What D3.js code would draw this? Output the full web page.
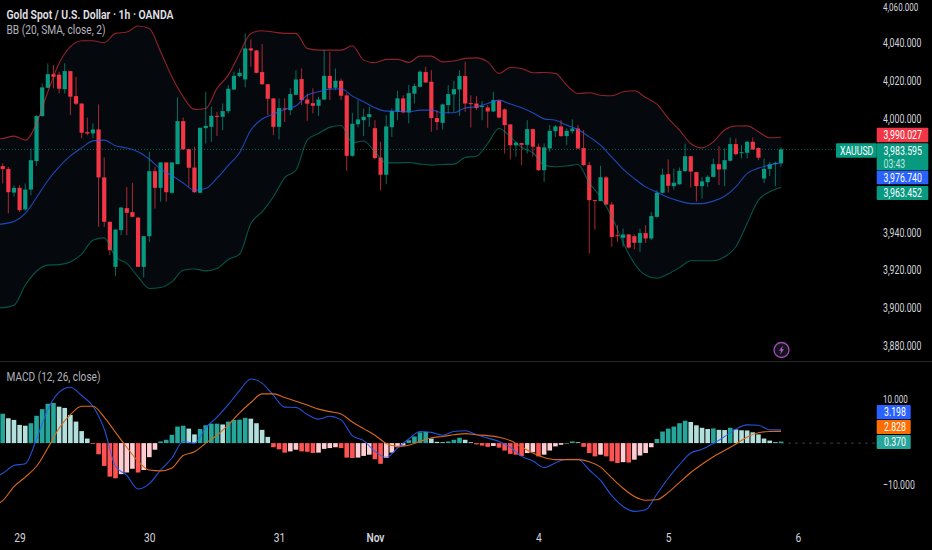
<!DOCTYPE html>
<html lang="en">
    <head>
        <meta charset="UTF-8">
        <title>Gold Spot / U.S. Dollar 1h</title>
        <style>
            body { margin: 0; background: #000; }
            svg { display: block; }
            text { font-family: Roboto, "Noto Sans", sans-serif; }
            .axis text { fill: #d1d4dc; font-size: 12.5px; }
            .axis .domain { display: none; }
            .tag { fill: #fff; font-size: 12.5px; }
        </style>
    </head>
    <body>

        <script src="https://d3js.org/d3.v7.min.js"></script>
        <script>

            const opens = [
                3974.8,3973.3,3960.8,3963.3,3951.9,3962.4,3977.4,4001.2,4016.1,4023.3,
                4023.0,4015.4,4024.9,4011.7,4007.8,3992.7,3992.0,3994.1,3968.8,3945.4,
                3921.6,3941.0,3952.6,3950.5,3947.6,3921.6,3937.8,3972.1,3963.3,3976.7,
                3960.7,3975.8,3998.5,3983.7,3974.0,3960.7,3994.8,3995.5,4001.3,4000.8,
                4003.8,4015.2,4022.3,4020.5,4036.9,4035.8,4024.4,4018.0,4010.5,3995.5,
                4005.2,4004.3,4012.4,4020.7,4009.9,4008.0,4006.6,4009.9,4022.4,4016.1,
                4019.8,4012.1,3980.2,3996.9,3999.0,4000.6,3994.8,3979.3,3970.2,3995.3,
                4003.4,4010.5,4003.1,4013.0,4016.6,4024.4,4019.3,4000.1,3997.6,4007.0,
                4012.6,4015.2,4022.3,4008.0,4007.8,4006.1,4005.7,4003.6,4009.4,4004.7,
                3996.8,3985.7,3986.9,3986.0,3994.3,3985.0,3972.6,3984.1,3993.2,3995.7,
                3990.6,3993.2,3994.6,3984.3,3975.3,3956.8,3956.3,3968.8,3954.5,3938.3,
                3936.9,3938.7,3937.8,3934.3,3939.4,3936.6,3948.0,3960.7,3970.5,3964.2,
                3965.2,3972.1,3980.0,3971.6,3964.2,3966.3,3969.1,3975.8,3973.0,3977.6,
                3986.4,3981.8,3981.8,3987.6,3984.3,3968.2,3973.3,3975.8,3976.2
            ];
            const highs = [
                3976.2,3974.4,3964.7,3964.7,3965.6,3984.1,4001.7,4018.4,4029.0,4028.1,
                4024.6,4029.0,4024.9,4021.9,4007.8,4000.4,3997.3,4007.3,3979.3,3945.4,
                3941.3,3953.3,3963.8,3965.9,3948.0,3937.8,3982.3,3974.4,3976.7,3976.7,
                3976.7,4011.0,4000.4,3984.1,3985.0,3995.0,4014.0,4006.1,4003.4,4007.8,
                4017.5,4024.6,4026.3,4044.8,4041.6,4036.0,4039.2,4018.0,4010.5,4010.5,
                4010.5,4015.8,4025.4,4026.3,4013.1,4015.8,4011.4,4036.0,4035.1,4026.3,
                4021.0,4013.1,4002.9,4009.6,4005.2,4006.1,3999.0,3987.6,4001.7,4005.2,
                4014.5,4012.2,4017.5,4018.4,4025.4,4027.2,4025.4,4004.3,4007.8,4017.5,
                4019.8,4025.4,4029.8,4012.2,4011.7,4009.1,4007.0,4014.0,4009.4,4005.2,
                3996.8,3987.6,3986.9,3999.0,3994.6,3986.7,3986.7,3996.4,3996.4,3999.0,
                3994.6,3999.4,3996.4,3993.8,3977.0,3956.8,3974.9,3969.5,3955.9,3943.6,
                3941.8,3938.8,3938.8,3941.8,3943.6,3950.6,3962.1,3973.5,3978.3,3973.5,
                3974.0,3986.7,3980.0,3971.6,3969.1,3970.0,3978.8,3985.3,3984.1,3989.9,
                3989.4,3985.8,3988.1,3989.9,3984.6,3978.8,3977.0,3977.0,3984.6
            ];
            const lows = [
                3965.6,3949.8,3958.6,3950.6,3951.2,3959.4,3974.9,4000.8,4015.8,4015.8,
                4013.1,4013.1,4001.7,4007.0,3989.4,3991.1,3989.4,3942.7,3942.7,3927.8,
                3916.7,3938.3,3938.3,3948.0,3921.6,3916.0,3934.8,3952.4,3956.0,3956.0,
                3960.0,3975.8,3983.2,3963.8,3960.7,3960.3,3986.7,3987.6,3990.6,3993.8,
                4002.6,4014.9,4021.6,4016.3,4027.2,4023.7,4017.5,4001.7,3991.1,3988.8,
                3998.2,4001.7,4012.2,4007.0,3998.7,4002.6,4001.3,4009.6,4009.6,4014.9,
                4009.6,3972.3,3979.7,3995.2,3990.6,3995.5,3978.3,3962.1,3965.2,3990.2,
                3999.0,4002.6,3997.3,4007.8,4016.3,4018.8,3992.9,3993.8,3994.1,4002.6,
                4003.4,4001.2,4003.4,3995.2,4004.3,3999.0,3995.0,4003.4,3999.9,3981.4,
                3978.3,3979.7,3975.3,3981.4,3979.7,3972.3,3966.5,3982.3,3990.2,3990.2,
                3985.8,3992.0,3983.7,3974.8,3928.6,3941.3,3956.3,3954.2,3932.2,3934.8,
                3932.2,3931.3,3930.8,3929.5,3934.3,3935.7,3947.6,3960.3,3960.8,3962.4,
                3964.9,3971.8,3963.5,3956.0,3957.7,3963.8,3968.8,3964.7,3964.2,3977.2,
                3980.4,3978.8,3978.8,3983.2,3977.9,3965.8,3969.5,3964.2,3974.4
            ];
            const closes = [
                3973.2,3961.0,3963.3,3951.5,3962.4,3977.9,4001.2,4016.3,4023.3,4021.9,
                4015.6,4024.9,4011.4,4007.7,3992.4,3992.0,3994.1,3968.8,3945.4,3930.4,
                3941.3,3952.9,3950.1,3948.0,3921.6,3937.8,3972.1,3963.3,3976.7,3961.0,
                3976.7,3998.5,3983.6,3973.9,3961.0,3995.0,3996.0,4001.3,4000.8,4003.8,
                4015.6,4022.4,4024.0,4036.9,4035.8,4024.0,4018.0,4010.3,3995.5,4005.4,
                4004.7,4012.8,4020.5,4009.6,4007.7,4006.6,4009.9,4022.4,4015.8,4019.8,
                4011.9,3980.2,3997.1,3999.4,4000.8,4002.2,3979.0,3970.2,3995.7,4003.8,
                4010.5,4003.1,4013.3,4017.0,4024.6,4018.9,4000.1,3998.0,4007.3,4012.8,
                4015.4,4022.3,4007.8,4007.7,4005.4,4006.5,4003.6,4009.6,4000.4,3996.4,
                3985.8,3987.2,3986.0,3994.3,3985.0,3972.6,3984.6,3993.4,3995.7,3990.6,
                3993.4,3994.6,3984.1,3975.3,3956.8,3956.4,3968.9,3954.5,3937.4,3938.0,
                3938.7,3931.8,3934.3,3939.4,3936.6,3948.4,3960.7,3970.2,3964.4,3966.0,
                3972.3,3980.0,3971.9,3964.2,3966.7,3969.1,3975.8,3973.0,3977.9,3986.4,
                3981.1,3982.1,3987.6,3983.6,3979.2,3973.3,3975.8,3976.5,3983.6
            ];

            // the indicator lines were read every second bar, starting just off the left edge
            const lineBars = [-1].concat(d3.range(0, 139, 2));
            const bbUpper = [
                3989.0,3989.4,3990.6,3988.5,3997.3,4014.0,4029.0,4037.8,4040.9,4040.9,4039.9,
                4044.8,4045.5,4048.7,4047.4,4035.1,4021.9,4011.4,4004.7,4005.2,4015.8,
                4022.8,4034.2,4044.8,4046.2,4045.5,4044.8,4044.8,4036.9,4036.0,4036.0,
                4036.0,4038.3,4030.7,4029.3,4031.1,4031.1,4029.5,4032.8,4032.8,4029.8,
                4030.2,4031.6,4031.9,4029.8,4023.7,4026.8,4026.3,4024.0,4024.2,4023.7,
                4017.5,4013.1,4013.5,4012.2,4011.9,4014.0,4014.5,4011.0,4007.5,4000.0,
                3993.8,3986.7,3984.4,3987.6,3993.8,3995.9,3996.0,3992.9,3989.7,3990.0
            ];
            const bbBasis = [
                3944.0,3944.3,3945.5,3949.8,3958.2,3967.2,3974.4,3980.2,3984.4,3988.1,3988.5,
                3985.5,3984.3,3982.3,3978.4,3973.2,3969.8,3965.9,3962.1,3963.0,3968.4,
                3975.1,3981.8,3993.8,3999.6,4002.2,4004.7,4006.6,4012.2,4014.0,4015.4,
                4015.6,4011.7,4008.7,4005.6,4003.8,4003.8,4003.4,4004.3,4004.3,4002.9,
                4002.9,4005.4,4006.1,4007.8,4009.6,4007.5,4005.6,4002.9,3999.7,3999.0,
                3996.4,3994.1,3990.2,3985.8,3979.5,3973.2,3968.2,3963.8,3961.0,3958.2,
                3956.3,3955.0,3955.0,3956.3,3958.9,3963.8,3970.9,3973.7,3975.3,3976.7
            ];
            const bbLower = [
                3900.0,3900.1,3901.4,3911.9,3919.3,3922.5,3922.8,3924.2,3928.3,3935.7,3936.9,
                3926.9,3923.4,3916.3,3910.2,3910.7,3913.7,3919.8,3920.5,3919.5,3920.7,
                3925.5,3928.3,3944.5,3950.6,3958.6,3968.6,3972.6,3988.5,3992.0,3995.2,
                3996.2,3987.1,3988.0,3982.3,3976.5,3976.5,3976.7,3975.8,3975.3,3975.6,
                3975.8,3979.3,3980.0,3986.7,3994.6,3990.2,3984.6,3981.8,3975.3,3974.4,
                3974.8,3975.6,3965.9,3958.4,3948.0,3934.3,3923.4,3917.2,3915.6,3917.9,
                3921.2,3924.8,3924.8,3924.8,3926.9,3932.2,3944.5,3956.8,3961.2,3963.5
            ];

            const macdLine = [
                -8.0,-7.3,-5.4,-5.0,1.0,8.1,12.3,13.5,11.5,8.9,3.4,
                -5.6,-7.8,-11.1,-9.8,-6.5,-3.6,0.4,0,3.7,6.3,
                9.3,12.7,15.5,14.5,11.5,8.7,8.6,6.9,5.8,6.5,
                5.6,1.8,0.6,-2.0,-3.4,-1.2,1.0,2.8,2.6,1.9,
                2.8,3.0,2.0,1.2,0.4,-1.0,-3.2,-4.3,-5.9,-4.8,
                -3.9,-3.9,-6.5,-9.0,-12.7,-15.3,-16.5,-16.1,-12.3,-8.5,
                -5.2,-2.4,-1.5,-0.1,1.6,3.4,4.4,4.3,3.2,3.198
            ];
            const signalLine = [
                -14.8,-13.9,-10.5,-8.2,-5.6,-1.2,3.6,6.9,8.9,8.9,6.3,
                2.6,-1.0,-4.4,-6.5,-6.7,-6.0,-3.0,-2.1,0,1.9,
                4.4,7.3,9.8,11.9,11.9,11.0,10.1,9.2,8.2,7.6,
                7.0,5.1,3.5,1.9,-0.1,-0.8,-0.5,0.4,1.3,1.6,
                2.0,2.3,2.0,1.8,1.4,0.6,-0.9,-2.4,-3.5,-4.0,
                -4.0,-4.0,-4.5,-5.8,-8.4,-10.9,-12.9,-13.8,-13.7,-11.9,
                -9.5,-7.1,-5.1,-3.3,-1.8,-0.2,1.5,2.5,2.8,2.828
            ];
            const histogram = [
                7.1,6.0,5.6,4.4,4.2,4.8,6.6,8.2,9.5,9.7,
                8.8,8.5,6.8,5.2,2.9,1.1,-0.2,-2.7,-5.5,-8.1,
                -8.5,-7.5,-7.1,-6.2,-7.1,-6.5,-3.4,-1.6,0.4,0.8,
                2.0,4.0,4.2,3.5,2.1,3.4,4.3,4.7,4.7,4.5,
                5.2,5.6,5.65,6.1,5.9,4.8,3.2,1.5,-1.0,-1.5,
                -2.3,-2.0,-1.6,-2.0,-2.1,-2.4,-2.3,-1.4,-1.2,-1.0,
                -1.2,-3.5,-3.6,-3.5,-3.1,-2.8,-3.9,-5.0,-3.6,-2.3,
                -1.0,-0.6,0.7,1.6,2.6,2.7,1.1,0.3,0.2,0.4,
                0.8,1.3,0.8,0.2,-0.3,-0.6,-0.9,-0.7,-1.1,-1.8,
                -2.6,-2.8,-3.1,-2.4,-2.2,-3.2,-2.8,-1.8,-0.8,-0.4,
                -0.1,0.4,0.2,-0.9,-2.4,-3.2,-2.8,-3.2,-4.4,-4.8,
                -4.6,-4.7,-4.0,-3.0,-2.4,-1.0,1.0,2.8,3.5,4.0,
                4.8,5.4,5.1,4.3,3.7,3.4,3.55,3.2,3.15,3.7,
                3.3,3.1,3.05,2.6,2.1,1.1,0.6,0.2,0.37
            ];

            const priceTicks = [3880, 3900, 3920, 3940, 4000, 4020, 4040, 4060];
            const macdTicks = [-10, 10];
            const timeBars = [3, 26, 49, 66, 95, 118, 141];
            const timeLabels = ["29", "30", "31", "Nov", "4", "5", "6"];

            const svgWidth = 932;
            const svgHeight = 550;
            const squeeze = 0.7;

            const green = "#089981";
            const red = "#f23645";

            const svg = d3.select("body").append("svg")
            .attr("width", svgWidth)
            .attr("height", svgHeight)
            .style("background", "#000");

            const xScale = d3.scaleLinear().domain([0, 138]).range([2.7, 781]);
            const priceScale = d3.scaleLinear().domain([3880, 4060]).range([345.7, 4.6]);
            const macdScale = d3.scaleLinear().domain([-10, 10]).range([484.5, 401.7]);

            // bollinger band fill
            const bandArea = d3.area()
            .x(d => xScale(d))
            .y0((d, i) => priceScale(bbLower[i]))
            .y1((d, i) => priceScale(bbUpper[i]))
            .curve(d3.curveMonotoneX);

            svg.append("path")
            .attr("d", bandArea(lineBars))
            .attr("fill", "#05090e");

            // last price line
            svg.append("line")
            .attr("x1", 0)
            .attr("x2", 836)
            .attr("y1", priceScale(closes[138]))
            .attr("y2", priceScale(closes[138]))
            .attr("stroke", green)
            .attr("stroke-opacity", 0.6)
            .attr("stroke-dasharray", "1,2");

            // candles
            const bars = d3.range(opens.length);
            const candleColor = i => closes[i] >= opens[i] ? green : red;

            svg.append("g").selectAll("line")
            .data(bars)
            .enter()
            .append("line")
            .attr("x1", i => xScale(i))
            .attr("x2", i => xScale(i))
            .attr("y1", i => priceScale(highs[i]))
            .attr("y2", i => priceScale(lows[i]))
            .attr("stroke", candleColor)
            .attr("stroke-opacity", 0.7);

            svg.append("g").selectAll("rect")
            .data(bars)
            .enter()
            .append("rect")
            .attr("x", i => xScale(i) - 2.1)
            .attr("width", 4.2)
            .attr("y", i => priceScale(Math.max(opens[i], closes[i])))
            .attr("height", i => Math.max(1, Math.abs(priceScale(opens[i]) - priceScale(closes[i]))))
            .attr("fill", candleColor);

            // indicator lines
            function drawLine(values, scale, color) {
                const line = d3.line()
                .x(d => xScale(d))
                .y((d, i) => scale(values[i]))
                .curve(d3.curveMonotoneX);

                svg.append("path")
                .attr("d", line(lineBars))
                .attr("fill", "none")
                .attr("stroke", color)
                .attr("stroke-width", 1.1);
            }

            drawLine(bbUpper, priceScale, "rgba(242,54,69,0.6)");
            drawLine(bbBasis, priceScale, "rgba(41,98,255,0.7)");
            drawLine(bbLower, priceScale, "rgba(8,153,129,0.55)");

            // pane separator
            svg.append("line")
            .attr("x1", 0)
            .attr("x2", svgWidth)
            .attr("y1", 361.5)
            .attr("y2", 361.5)
            .attr("stroke", "#26282e");

            // macd zero line
            svg.append("line")
            .attr("x1", xScale(138))
            .attr("x2", 876)
            .attr("y1", macdScale(0))
            .attr("y2", macdScale(0))
            .attr("stroke", "#3a3d45")
            .attr("stroke-dasharray", "3,4");

            // histogram, colour depends on the direction against the previous bar
            function histColor(i) {
                const v = histogram[i];
                const prev = i > 0 ? histogram[i - 1] : v;
                if (v >= 0) return v >= prev ? "#26a69a" : "#b2dfdb";
                return v < prev ? "#ff5252" : "#ffcdd2";
            }

            svg.append("g").selectAll("rect")
            .data(bars)
            .enter()
            .append("rect")
            .attr("x", i => xScale(i) - 2.3)
            .attr("width", 4.6)
            .attr("y", i => Math.min(macdScale(histogram[i]), macdScale(0)))
            .attr("height", i => Math.abs(macdScale(histogram[i]) - macdScale(0)))
            .attr("fill", histColor);

            drawLine(macdLine, macdScale, "rgba(41,98,255,0.85)");
            drawLine(signalLine, macdScale, "#d9691c");

            // axes
            function styleAxis(g) {
                g.attr("class", "axis");
                g.selectAll(".tick line").remove();
                g.selectAll(".tick text").attr("transform", "scale(" + squeeze + ",1)");
            }

            const priceAxis = svg.append("g")
            .attr("transform", "translate(883,0)")
            .call(d3.axisRight(priceScale).tickValues(priceTicks).tickSize(0).tickPadding(0).tickFormat(d3.format(",.3f")))
            .call(styleAxis);
            // top label pushed down so it stays inside the picture
            priceAxis.selectAll(".tick text")
            .filter(d => d === 4060)
            .attr("transform", "translate(0,2.5) scale(" + squeeze + ",1)")
            .style("font-size", "11.5px");

            const macdAxis = svg.append("g")
            .attr("transform", "translate(883,0)")
            .call(d3.axisRight(macdScale).tickValues(macdTicks).tickSize(0).tickPadding(0).tickFormat(d => d3.format(".3f")(d).replace("-", "\u2212")))
            .call(styleAxis);
            // lifted a little so the blue tag does not sit on top of the label
            macdAxis.selectAll(".tick text")
            .filter(d => d > 0)
            .attr("transform", "translate(0,-3) scale(" + squeeze + ",1)")
            .style("font-size", "11.5px");

            const timeAxis = svg.append("g")
            .attr("transform", "translate(0,528)")
            .call(d3.axisBottom(xScale).tickValues(timeBars).tickSize(0).tickPadding(5).tickFormat((d, i) => timeLabels[i]));
            timeAxis.attr("class", "axis");
            timeAxis.selectAll(".tick line").remove();
            timeAxis.selectAll(".tick text")
            .attr("transform", "scale(0.82,1)")
            .style("font-weight", (d, i) => timeLabels[i] === "Nov" ? 600 : 400);

            // value tags on the right
            const priceTags = [
                {label: "3,990.027", color: red, top: 127.7, h: 14.6},
                {label: "3,983.595", color: green, top: 143.3, h: 27},
                {label: "3,976.740", color: "#2962ff", top: 170.7, h: 13.6},
                {label: "3,963.452", color: green, top: 186, h: 14}
            ];
            const macdTags = [
                {label: "3.198", color: "#2962ff", top: 405, h: 14.3},
                {label: "2.828", color: "#ff6d00", top: 420, h: 14},
                {label: "0.370", color: "#26a69a", top: 435, h: 14}
            ];

            function drawText(x, y, str, cls) {
                return svg.append("text")
                .attr("class", cls)
                .attr("transform", "translate(" + x + "," + y + ") scale(" + squeeze + ",1)")
                .text(str);
            }

            function drawTag(x, w, d, textX) {
                svg.append("rect")
                .attr("x", x)
                .attr("y", d.top)
                .attr("width", w)
                .attr("height", d.h)
                .attr("rx", 1)
                .attr("fill", d.color);
                drawText(textX, d.top + 11.3, d.label, "tag");
            }

            priceTags.forEach(d => drawTag(876.7, 51.6, d, 883.5));
            macdTags.forEach(d => drawTag(876.7, 34, d, 884));

            drawTag(836, 40.7, {label: "XAUUSD", color: green, top: 143.3, h: 14.4}, 840);
            drawText(883.5, 168, "03:43", "tag").style("fill", "#bfe6dd");

            // titles
            svg.append("text")
            .attr("x", 6.5)
            .attr("y", 18.5)
            .attr("textLength", 167)
            .attr("lengthAdjust", "spacingAndGlyphs")
            .attr("fill", "#e0e3eb")
            .style("font-size", "12.5px")
            .style("font-weight", 600)
            .text("Gold Spot / U.S. Dollar \u00b7 1h \u00b7 OANDA");

            svg.append("text")
            .attr("x", 6.5)
            .attr("y", 34)
            .attr("textLength", 99)
            .attr("lengthAdjust", "spacingAndGlyphs")
            .attr("fill", "#b2b5be")
            .style("font-size", "12.5px")
            .text("BB (20, SMA, close, 2)");

            svg.append("text")
            .attr("x", 6.5)
            .attr("y", 381)
            .attr("textLength", 94)
            .attr("lengthAdjust", "spacingAndGlyphs")
            .attr("fill", "#b2b5be")
            .style("font-size", "12.5px")
            .text("MACD (12, 26, close)");

            // lightning badge
            const badge = svg.append("g").attr("transform", "translate(781.5,350)");
            badge.append("circle")
            .attr("r", 7.5)
            .attr("fill", "#15141c")
            .attr("stroke", "#a24bb5")
            .attr("stroke-width", 1.3);
            badge.append("path")
            .attr("d", "M1.5,-4.5 L-2.5,0.8 L-0.3,0.8 L-1.5,4.5 L2.5,-0.8 L0.3,-0.8 Z")
            .attr("fill", "#b45cc6");

        </script>
    </body>
</html>
